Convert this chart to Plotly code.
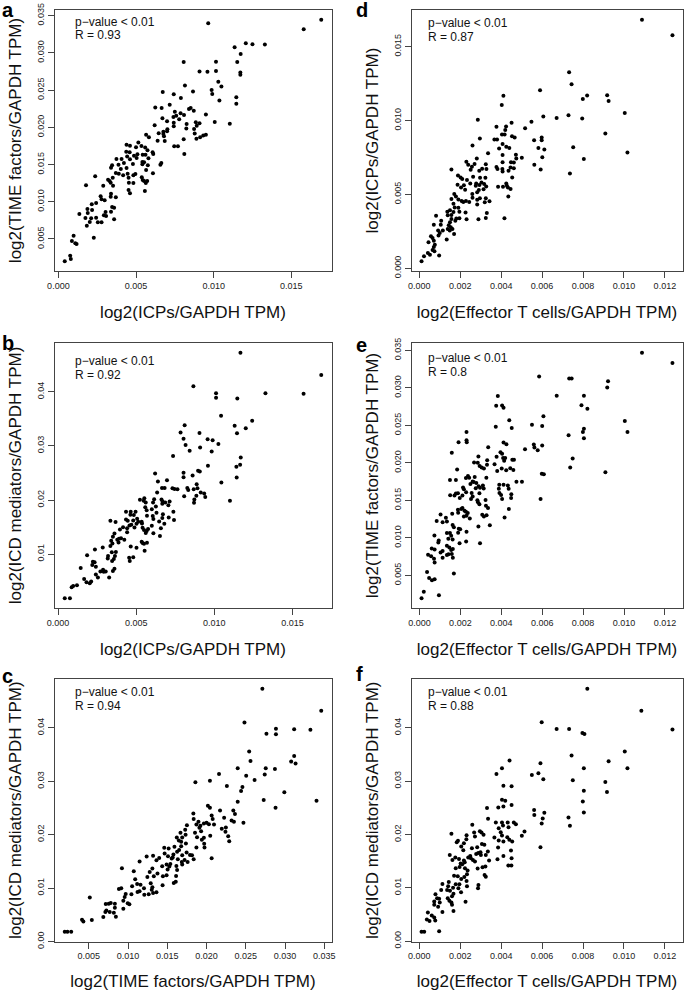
import numpy as np
import plotly.graph_objects as go

# values, in units of 1e-3: (x, y) per sample
# a: ICPs vs TIME factors
a_pts = [(16.93,34.45),(15.8,33.16),(9.65,33.96),(11.35,30.74),(12.07,31.28),(12.5,31.14),(13.3,31.1),(11.74,29.84),(11.52,28.77),(10.15,28.8),(8.07,28.77),(9.09,27.5),(9.6,27.47),(10.15,27.56),(11.72,27.34),(11.72,27.07),(10.3,26.13),(10.5,25.46),(8.15,25.6),(8.67,24.8),(6.72,24.74),(7.43,24.43),(7.89,23.93),(9.87,25.0),(9.91,24.47),(10.37,23.58),(11.46,24.02),(11.46,23.17),(6.24,22.64),(6.65,22.6),(7.17,23.04),(7.5,22.1),(7.87,21.88),(8.41,22.46),(8.52,22.6),(8.72,22.23),(8.09,21.65),(7.59,21.56),(9.5,21.7),(6.2,20.26),(6.7,21.2),(7.0,20.8),(7.41,21.38),(7.43,20.62),(7.78,21.07),(8.26,20.44),(8.85,20.67),(10.07,20.71),(11.04,20.49),(7.43,20.13),(8.24,19.82),(8.74,19.77),(8.91,20.22),(9.09,20.53),(8.78,19.15),(8.89,18.47),(9.13,18.65),(9.33,18.88),(9.5,19.0),(6.76,19.41),(6.76,19.1),(6.8,18.79),(7.0,19.46),(6.85,18.16),(6.46,19.19),(7.02,19.73),(5.65,19.01),(5.83,18.65),(6.39,18.2),(7.46,17.44),(7.7,17.44),(8.07,18.38),(8.11,16.41),(4.39,17.67),(4.61,17.53),(5.15,17.94),(5.0,17.31),(5.35,17.49),(5.59,17.27),(5.74,16.9),(6.07,16.64),(6.11,16.41),(5.8,15.83),(5.61,16.32),(5.43,16.32),(5.09,16.37),(4.87,16.19),(4.59,16.64),(4.37,16.73),(4.43,16.06),(4.61,15.7),(4.8,15.07),(5.04,15.88),(5.41,15.34),(5.52,15.3),(5.41,15.03),(5.76,14.89),(5.65,14.27),(6.09,13.82),(6.57,14.98),(6.63,15.21),(3.74,15.74),(4.07,15.74),(3.87,14.98),(3.46,14.89),(3.39,14.58),(3.7,13.86),(3.89,13.77),(4.17,13.55),(4.39,14.53),(4.46,13.77),(4.52,13.24),(4.54,12.56),(4.52,11.58),(4.61,11.13),(4.83,13.55),(4.83,12.52),(4.96,13.73),(5.37,13.28),(5.43,12.92),(5.52,12.79),(5.63,12.52),(5.72,12.79),(5.57,11.45),(3.2,12.97),(3.3,12.79),(3.37,12.56),(3.5,13.24),(2.37,13.42),(2.89,12.16),(1.78,12.21),(3.52,12.16),(3.39,11.09),(3.37,10.68),(3.7,10.6),(2.78,10.33),(2.98,10.19),(2.15,9.66),(2.43,9.83),(1.87,9.03),(2.17,8.89),(1.35,8.36),(1.89,8.49),(1.74,7.82),(2.11,7.78),(2.02,7.28),(1.83,6.79),(2.43,7.86),(2.54,7.24),(2.78,7.24),(2.93,8.18),(3.04,8.63),(3.07,8.09),(3.46,9.3),(3.59,9.21),(3.39,8.67),(3.59,7.64),(2.28,5.18),(0.98,5.45),(0.87,4.73),(1.09,4.42),(1.17,4.33),(0.76,2.76),(0.8,2.31),(0.41,2.0),(2.72,10.73),(4.22,15.2),(4.02,14.4)]

# d: effector T cells vs ICPs
d_pts = [(10.88,16.82),(12.37,15.77),(7.32,13.27),(7.44,12.45),(5.9,12.05),(4.11,11.67),(4.03,11.04),(8.2,11.69),(7.99,11.46),(9.18,11.71),(9.25,11.31),(10.04,10.5),(7.29,10.36),(6.06,10.27),(6.71,10.16),(7.96,10.14),(5.48,9.91),(5.17,9.48),(2.86,10.05),(4.51,9.84),(3.77,9.57),(4.24,9.59),(4.2,9.35),(4.04,9.05),(4.17,9.05),(9.09,9.12),(2.96,8.78),(3.67,8.72),(3.8,8.72),(4.53,8.94),(4.66,8.85),(5.61,8.67),(5.98,8.85),(5.98,8.67),(4.07,8.4),(4.25,8.22),(4.4,8.13),(2.6,8.31),(3.9,8.11),(5.82,8.13),(6.11,8.04),(7.52,8.18),(10.17,7.84),(3.36,7.79),(4.07,7.66),(4.72,7.68),(4.74,7.43),(5.01,7.48),(6.01,7.52),(2.81,7.43),(8.04,7.39),(4.07,7.18),(4.48,7.18),(4.62,7.16),(2.3,7.21),(2.39,7.0),(2.7,7.05),(2.57,6.87),(3.25,7.03),(3.07,6.73),(3.28,6.71),(2.93,6.6),(2.51,6.67),(1.57,6.69),(1.89,6.28),(2.02,6.15),(2.1,6.04),(3.77,6.85),(3.82,6.71),(4.06,6.71),(4.07,6.55),(4.36,6.6),(4.46,6.82),(4.62,6.76),(5.62,7.0),(5.93,6.69),(7.36,6.42),(2.33,5.97),(2.63,6.19),(2.97,6.13),(3.04,5.81),(3.23,6.13),(3.17,5.7),(3.27,5.54),(4.54,6.15),(1.87,5.65),(2.04,5.47),(2.18,5.61),(2.24,5.32),(2.49,5.74),(2.78,5.74),(2.76,5.59),(2.94,5.63),(2.91,5.29),(2.83,5.14),(3.14,5.34),(3.85,5.52),(4.09,5.52),(4.25,5.74),(4.28,5.59),(4.33,5.47),(4.46,5.36),(4.35,4.86),(1.71,5.02),(1.57,4.68),(1.79,4.86),(1.91,4.66),(2.07,4.55),(2.15,4.48),(2.28,4.55),(2.44,4.48),(2.59,5.02),(2.6,4.77),(2.83,4.64),(2.96,4.73),(3.25,4.73),(3.43,4.53),(2.83,4.32),(3.2,4.46),(1.67,4.37),(1.73,4.12),(1.91,4.1),(1.5,3.92),(1.37,3.83),(1.67,3.81),(1.96,3.83),(2.26,3.78),(2.31,3.31),(1.96,3.38),(2.89,3.31),(3.25,3.4),(3.3,3.74),(4.16,3.38),(1.39,3.58),(1.57,3.6),(1.57,3.33),(1.76,3.22),(1.81,3.36),(1.5,3.11),(1.07,3.22),(0.82,3.56),(0.71,2.95),(1.05,2.95),(1.44,2.91),(1.54,2.77),(1.62,2.66),(1.39,2.66),(1.49,2.55),(1.7,2.32),(0.92,2.55),(1.15,2.55),(1.0,2.39),(0.94,2.21),(1.34,1.94),(0.57,2.16),(0.65,2.05),(0.45,1.76),(0.71,1.87),(0.76,1.6),(0.71,1.44),(0.65,1.24),(0.74,1.15),(0.42,1.04),(0.52,0.92),(0.97,0.86),(0.23,0.81),(0.11,0.47)]

# b: ICPs vs ICD mediators
b_pts = [(11.67,47.19),(16.84,43.07),(15.71,39.64),(13.27,39.7),(11.47,38.76),(10.11,39.7),(10.11,38.89),(8.66,41.01),(10.43,35.58),(12.42,34.64),(12.01,33.27),(11.3,33.71),(11.45,32.33),(8.1,33.83),(7.84,32.46),(8.03,31.34),(9.05,32.4),(9.57,31.21),(9.89,31.02),(10.26,30.34),(8.16,30.15),(8.42,29.09),(9.09,29.71),(9.83,28.96),(7.36,28.15),(11.69,27.84),(11.65,26.53),(11.41,26.15),(9.59,26.34),(8.96,25.41),(9.07,25.28),(8.03,25.03),(6.21,24.91),(8.03,24.22),(8.61,24.53),(11.43,24.16),(10.45,23.22),(6.97,23.66),(6.39,23.41),(7.32,22.16),(7.45,22.03),(7.64,21.97),(6.65,22.22),(6.82,22.22),(8.27,22.22),(8.33,21.85),(8.68,21.97),(8.92,22.16),(8.87,22.91),(9.13,21.41),(9.35,21.22),(9.42,20.54),(8.85,20.79),(8.07,20.72),(8.72,20.1),(8.7,19.48),(11.0,19.85),(6.34,21.41),(6.62,20.1),(6.69,19.73),(6.67,19.29),(6.86,19.54),(7.06,19.04),(7.14,19.73),(6.15,20.16),(6.08,19.54),(6.26,18.79),(6.0,18.29),(7.38,17.85),(5.52,20.35),(5.48,19.85),(5.61,19.54),(5.58,18.66),(5.24,20.04),(5.67,18.1),(6.3,17.67),(6.71,17.35),(7.08,16.79),(7.42,16.29),(6.67,16.67),(6.06,17.04),(6.1,16.48),(5.69,17.1),(6.47,16.04),(6.8,15.61),(6.58,14.79),(6.52,13.36),(4.96,17.85),(4.65,17.85),(4.35,17.85),(4.63,17.29),(4.85,17.23),(5.06,16.54),(5.13,15.98),(5.02,15.61),(5.35,15.98),(4.81,16.23),(4.35,16.42),(4.46,16.17),(4.69,15.42),(4.57,15.29),(4.42,14.79),(4.42,14.04),(4.89,14.92),(5.37,15.67),(5.41,14.86),(5.5,14.48),(5.67,14.29),(5.61,13.92),(6.1,13.86),(6.0,15.23),(5.76,14.67),(5.35,12.3),(5.41,12.05),(5.5,11.92),(5.54,10.61),(5.69,12.11),(4.16,14.98),(4.24,12.67),(3.96,14.54),(3.61,13.8),(3.51,13.23),(3.35,16.17),(3.68,15.92),(3.79,12.67),(3.9,12.86),(4.03,12.92),(3.87,12.17),(3.4,12.48),(3.35,11.49),(3.48,11.99),(3.7,10.42),(3.64,9.68),(3.44,10.36),(3.57,9.11),(3.2,9.68),(3.18,9.18),(3.46,8.74),(3.61,7.3),(3.51,6.87),(3.27,5.68),(2.86,11.24),(2.36,10.86),(1.86,9.8),(1.45,7.43),(2.34,8.49),(2.42,7.68),(2.19,7.99),(2.23,8.61),(2.42,6.24),(2.55,5.68),(2.71,6.8),(2.88,7.12),(2.92,6.74),(3.05,6.8),(1.67,5.43),(1.82,4.81),(2.03,4.62),(2.12,4.93),(1.21,4.24),(0.97,4.12),(0.87,3.87),(0.43,1.87),(0.76,1.87),(4.55,9.36),(4.81,9.43),(4.59,8.74),(5.02,11.17),(4.65,11.42)]

# e: effector T cells vs TIME factors
e_pts = [(10.88,34.68),(12.37,33.33),(9.22,30.9),(9.18,30.05),(5.85,31.53),(7.32,31.26),(7.44,31.26),(6.71,28.96),(8.04,28.96),(7.92,27.7),(8.21,27.21),(3.83,28.92),(3.75,27.61),(4.04,27.66),(4.11,27.34),(3.73,24.82),(4.39,25.68),(4.51,24.64),(5.5,25.09),(6.06,26.22),(6.0,24.91),(10.04,25.59),(10.17,24.1),(8.04,24.55),(7.99,24.1),(8.04,23.29),(7.29,23.69),(2.3,24.1),(2.31,22.75),(1.91,22.75),(2.3,23.02),(4.11,22.7),(4.25,22.48),(3.36,22.07),(5.59,22.43),(6.0,22.3),(5.16,21.8),(5.62,22.03),(5.78,21.67),(1.58,21.35),(2.88,20.86),(3.77,20.81),(3.96,21.4),(4.04,21.22),(4.09,20.63),(4.19,20.63),(4.14,20.27),(2.67,20.05),(2.85,20.0),(2.94,19.59),(3.04,19.37),(3.15,19.23),(3.31,20.36),(3.3,19.73),(3.67,19.82),(4.02,19.23),(4.24,19.01),(3.8,18.92),(4.44,19.28),(4.59,19.05),(4.54,20.41),(4.62,20.41),(7.49,20.59),(7.37,19.37),(9.09,18.74),(5.98,18.56),(6.08,18.47),(1.84,19.1),(2.37,18.24),(2.27,17.97),(2.43,18.02),(2.7,18.11),(2.6,17.52),(2.49,17.16),(2.65,17.43),(2.78,17.3),(2.89,16.89),(2.96,16.67),(2.75,16.62),(3.1,16.98),(3.14,16.58),(3.27,18.02),(1.49,17.7),(1.78,17.7),(2.13,16.71),(2.17,16.49),(2.28,16.08),(2.1,15.63),(1.88,15.95),(1.78,15.9),(1.71,15.63),(1.97,15.32),(2.55,15.99),(2.6,15.5),(2.52,15.18),(2.93,15.95),(2.83,15.0),(2.86,14.73),(2.93,14.46),(3.23,15.05),(3.25,14.28),(3.35,13.96),(3.9,17.07),(3.88,16.53),(4.11,17.07),(4.32,16.98),(4.36,16.53),(4.74,17.48),(5.01,17.48),(3.91,15.99),(3.99,15.72),(4.04,15.18),(4.49,15.81),(4.48,15.32),(5.92,15.18),(4.37,13.83),(4.16,12.7),(1.5,15.68),(1.88,13.74),(1.89,13.33),(2.1,13.96),(2.2,13.6),(2.27,13.47),(2.36,13.29),(2.3,12.93),(2.17,12.84),(2.04,13.83),(2.46,12.57),(3.07,13.06),(3.15,12.84),(3.28,13.02),(3.44,11.67),(2.88,11.49),(2.96,9.28),(1.6,13.2),(1.29,12.66),(1.34,12.16),(1.13,12.07),(0.84,12.25),(1.03,13.11),(1.62,11.71),(1.68,11.4),(1.92,11.22),(1.99,11.13),(1.89,10.68),(2.3,10.81),(2.28,9.5),(1.96,9.28),(1.34,10.63),(1.49,10.63),(1.55,10.27),(1.62,9.77),(1.41,9.86),(1.34,8.92),(1.46,8.69),(1.55,8.38),(1.63,8.51),(1.42,7.79),(1.34,7.7),(1.58,7.84),(1.63,7.34),(1.13,8.24),(1.03,8.02),(0.94,9.64),(0.92,9.37),(0.73,10.32),(0.6,8.56),(0.74,8.42),(0.42,7.75),(0.57,7.52),(0.71,7.21),(0.74,6.71),(1.13,7.34),(0.37,5.45),(0.47,4.64),(0.61,4.32),(0.74,4.46),(1.68,5.23),(0.21,2.79),(0.1,1.94),(0.95,2.34)]

# c: TIME factors vs ICD mediators
c_pts = [(27.11,47.32),(34.61,43.19),(24.83,41.0),(28.84,39.81),(28.84,38.81),(27.63,38.87),(31.16,39.75),(33.23,39.62),(25.43,35.56),(25.6,33.8),(30.78,33.68),(31.16,34.74),(31.34,33.3),(23.97,32.43),(27.54,32.43),(28.71,32.3),(21.59,31.36),(25.05,31.05),(27.41,31.24),(26.12,30.24),(20.43,30.11),(18.58,29.8),(22.59,29.11),(24.57,28.92),(24.4,28.17),(29.91,27.92),(23.97,26.17),(27.28,26.48),(34.01,26.35),(28.79,25.04),(20.17,25.41),(20.43,25.04),(18.32,23.97),(18.36,22.91),(21.72,24.54),(23.41,24.54),(23.62,23.85),(22.24,23.16),(24.7,22.22),(23.19,22.66),(23.49,22.41),(20.65,23.6),(20.78,22.91),(20.0,22.22),(19.66,22.1),(20.3,21.97),(20.95,21.91),(19.22,21.66),(18.97,22.41),(18.71,21.91),(19.09,21.28),(19.31,20.66),(19.66,19.41),(18.53,20.34),(18.79,19.53),(17.5,21.78),(17.28,20.91),(17.33,19.97),(16.68,20.34),(16.9,19.47),(16.21,19.47),(21.94,21.1),(22.41,20.53),(22.76,19.72),(22.89,18.78),(22.46,21.35),(20.47,19.78),(19.7,18.28),(19.74,17.59),(20.65,15.59),(19.4,19.03),(18.71,17.59),(18.36,15.4),(18.15,16.15),(16.47,18.9),(16.77,18.65),(17.37,18.34),(16.77,17.84),(17.46,16.65),(17.89,16.21),(16.9,16.15),(16.51,17.15),(16.25,16.78),(15.91,17.72),(15.78,16.28),(15.69,15.71),(16.34,15.4),(16.85,14.9),(17.2,15.27),(17.59,14.9),(16.9,14.4),(16.16,14.15),(16.25,13.4),(15.17,17.4),(14.61,17.53),(14.66,16.46),(15.09,15.96),(15.56,15.52),(14.91,14.4),(15.39,14.52),(15.26,14.02),(14.35,14.08),(13.62,15.21),(13.19,16.03),(13.97,15.65),(15.04,13.46),(14.91,12.39),(16.12,12.27),(16.08,11.2),(15.82,10.95),(14.44,12.21),(13.75,12.71),(14.4,10.52),(13.1,13.65),(12.76,13.02),(13.28,12.21),(12.37,15.9),(11.47,14.96),(12.46,12.08),(12.89,10.89),(13.1,10.14),(13.02,9.7),(13.19,9.08),(13.62,9.2),(12.63,8.83),(11.59,10.64),(12.03,9.95),(11.47,9.39),(12.07,8.76),(10.91,11.64),(10.73,13.15),(11.16,10.77),(10.52,10.33),(10.43,8.83),(11.21,9.26),(9.22,13.71),(9.14,9.95),(8.84,9.83),(9.7,8.89),(9.57,8.33),(9.4,7.64),(9.96,7.14),(9.4,6.13),(10.17,6.95),(7.8,7.2),(8.32,7.07),(8.32,6.32),(7.16,7.01),(7.54,7.07),(7.24,5.82),(7.11,5.51),(8.19,5.38),(7.67,5.51),(8.45,4.63),(6.85,4.57),(5.13,8.26),(5.39,4.01),(4.14,4.07),(4.31,3.76),(1.94,1.82),(2.28,1.82),(2.76,1.82)]

# f: effector T cells vs ICD mediators
f_pts = [(8.21,47.34),(10.85,43.2),(12.37,39.69),(5.98,41.07),(6.71,39.81),(7.32,39.81),(7.97,39.06),(8.07,38.87),(10.04,35.55),(7.44,34.8),(9.25,33.73),(10.17,32.41),(4.41,33.86),(4.04,32.41),(5.92,33.35),(3.77,31.35),(5.5,31.16),(5.82,31.47),(6.06,30.34),(8.04,32.41),(7.5,30.16),(9.09,29.84),(9.17,27.96),(8.04,28.21),(4.11,29.15),(4.51,29.03),(7.99,26.21),(4.04,26.52),(4.2,26.33),(4.11,25.27),(4.51,25.52),(3.31,24.95),(3.86,25.08),(8.04,24.14),(5.61,24.58),(5.62,23.64),(6.11,24.08),(6.03,23.01),(5.98,22.07),(7.29,23.2),(7.36,21.63),(3.36,22.95),(3.74,22.26),(4.04,22.26),(4.09,21.69),(4.32,22.26),(4.62,22.26),(4.72,21.94),(2.59,21.82),(5.14,20.56),(5.01,19.75),(3.88,21.19),(4.36,21.38),(3.67,19.44),(3.88,18.87),(4.04,19.81),(3.98,20.44),(4.3,19.5),(4.4,19.0),(4.54,18.68),(4.11,18.68),(3.85,17.55),(5.92,17.62),(4.48,16.99),(3.82,15.36),(4.11,15.99),(4.51,15.55),(4.35,14.17),(4.5,14.17),(2.96,20.63),(3.04,20.38),(3.14,19.94),(2.68,20.38),(2.72,19.62),(2.31,19.87),(2.3,19.12),(2.18,18.37),(1.89,18.81),(1.83,18.56),(1.57,20.13),(2.05,17.74),(2.15,17.05),(2.57,17.43),(2.83,17.62),(3.06,18.24),(3.18,18.06),(2.78,16.36),(2.88,16.55),(3.01,16.18),(2.99,16.68),(3.25,16.18),(3.35,16.8),(3.41,15.11),(2.49,15.99),(2.52,15.55),(2.39,15.67),(2.62,15.24),(2.72,14.92),(2.18,15.11),(1.94,15.42),(1.76,15.67),(2.02,14.55),(2.1,14.42),(2.22,14.8),(1.62,15.24),(1.49,16.18),(1.78,13.67),(1.97,13.92),(2.23,13.67),(2.36,13.23),(2.85,13.61),(3.09,13.86),(3.23,13.98),(3.19,12.41),(3.25,12.1),(2.89,10.53),(2.87,9.91),(2.33,12.54),(2.2,12.04),(1.88,12.16),(1.7,12.29),(2.05,11.66),(2.31,11.29),(2.33,10.28),(1.96,10.66),(1.78,10.66),(1.65,10.03),(1.91,9.91),(2.04,9.15),(2.26,7.4),(1.44,11.1),(1.41,10.28),(1.36,9.59),(1.5,9.47),(1.6,8.4),(1.67,8.9),(1.39,8.03),(1.47,7.59),(1.57,7.27),(1.6,6.83),(1.67,5.64),(1.13,10.72),(1.07,9.59),(0.79,8.78),(0.87,8.03),(0.97,7.96),(0.73,7.46),(0.73,6.83),(0.92,6.46),(1.13,5.45),(1.0,7.27),(0.42,5.39),(0.37,4.08),(0.5,3.76),(0.61,4.83),(0.73,4.45),(0.78,3.89),(0.97,1.88),(0.11,1.76),(0.24,1.76)]

ticks_icp = [0, 0.005, 0.010, 0.015]
ticks_time = [0.005, 0.010, 0.015, 0.020, 0.025, 0.030, 0.035]
ticks_icd = [0, 0.01, 0.02, 0.03, 0.04]
ticks_teff = [0, 0.002, 0.004, 0.006, 0.008, 0.010, 0.012]

lab_icp = "log2(ICPs/GAPDH TPM)"
lab_time = "log2(TIME factors/GAPDH TPM)"
lab_icd = "log2(ICD mediators/GAPDH TPM)"
lab_teff = "log2(Effector T cells/GAPDH TPM)"

W, H = 685, 991
FONT = "Liberation Sans, Arial, Helvetica, sans-serif"

# letter, points, x label, y label, x ticks, y ticks, x fmt, y fmt, R, row, col
panels = [
    ("a", a_pts, lab_icp, lab_time, ticks_icp, ticks_time, ".3f", ".3f", "0.93", 0, 0),
    ("d", d_pts, lab_teff, lab_icp, ticks_teff, ticks_icp, ".3f", ".3f", "0.87", 0, 1),
    ("b", b_pts, lab_icp, lab_icd, ticks_icp, ticks_icd, ".3f", ".2f", "0.92", 1, 0),
    ("e", e_pts, lab_teff, lab_time, ticks_teff, ticks_time, ".3f", ".3f", "0.8", 1, 1),
    ("c", c_pts, lab_time, lab_icd, ticks_time, ticks_icd, ".3f", ".2f", "0.94", 2, 0),
    ("f", f_pts, lab_teff, lab_icd, ticks_teff, ticks_icd, ".3f", ".2f", "0.88", 2, 1),
]

# plot boxes in pixels
cols = [(54.5, 331.5), (411.5, 682.5)]
rows = [(10, 271), (343, 608), (679, 941.5)]
# where the stats text starts below each box top
stat_dy = {"a": 12, "d": 13, "b": 18, "e": 15, "c": 13, "f": 13}
letter_y = {"a": 10, "d": 10, "b": 343, "e": 345, "c": 676, "f": 674}


def px(x):
    return x / W


def py(y):
    return 1 - y / H


def r_range(v):
    # R style: data range widened by 4% each side
    lo, hi = float(np.min(v)), float(np.max(v))
    pad = (hi - lo) * 0.04
    return [lo - pad, hi + pad]


fig = go.Figure()
annotations = []
axis_style = dict(
    showline=True, mirror=True, linecolor="#444", linewidth=1,
    ticks="outside", ticklen=6, tickcolor="#444", tickwidth=1,
    showgrid=False, zeroline=False, automargin=False,
    tickfont=dict(size=9, color="#222", family=FONT),
    title_font=dict(size=17, color="#111", family=FONT),
)

for i, (letter, pts, xl, yl, xt, yt, xf, yf, r, ri, ci) in enumerate(panels):
    k = "" if i == 0 else str(i + 1)
    arr = np.array(pts) * 1e-3
    x, y = arr[:, 0], arr[:, 1]
    fig.add_trace(go.Scatter(
        x=x, y=y, mode="markers", xaxis="x" + k, yaxis="y" + k,
        marker=dict(size=4, color="black"), showlegend=False, hoverinfo="skip"))

    left, right = cols[ci]
    top, bottom = rows[ri]
    fig.update_layout(**{
        "xaxis" + k: dict(axis_style, domain=[px(left), px(right)], anchor="y" + k,
                          range=r_range(x), tickvals=xt, tickformat=xf,
                          title=dict(text=xl, standoff=16)),
        "yaxis" + k: dict(axis_style, domain=[py(bottom), py(top)], anchor="x" + k,
                          range=r_range(y), tickvals=yt, tickformat=yf, tickangle=-90,
                          title=dict(text=yl, standoff=9)),
    })

    tx = left + (18.5 if ci == 0 else 14)
    for j, txt in enumerate(["p\u2212value < 0.01", "R = " + r]):
        annotations.append(dict(
            x=px(tx), y=py(top + stat_dy[letter] + 13.5 * j), xref="paper", yref="paper",
            text=txt, showarrow=False, xanchor="left", yanchor="middle",
            font=dict(size=12, color="#111", family=FONT)))
    annotations.append(dict(
        x=px(0 if ci == 0 else 354), y=py(letter_y[letter]), xref="paper", yref="paper",
        text="<b>" + letter + "</b>", showarrow=False, xanchor="left", yanchor="middle",
        font=dict(size=20, color="black", family=FONT)))

fig.update_layout(
    width=W, height=H,
    margin=dict(l=0, r=0, t=0, b=0),
    paper_bgcolor="white", plot_bgcolor="white",
    font=dict(family=FONT),
    annotations=annotations,
)

# drop the browser's default body margin so the figure sits at the page corner
fig.write_html("out.html", config={"displayModeBar": False},
               post_script="document.body.style.margin='0';")
